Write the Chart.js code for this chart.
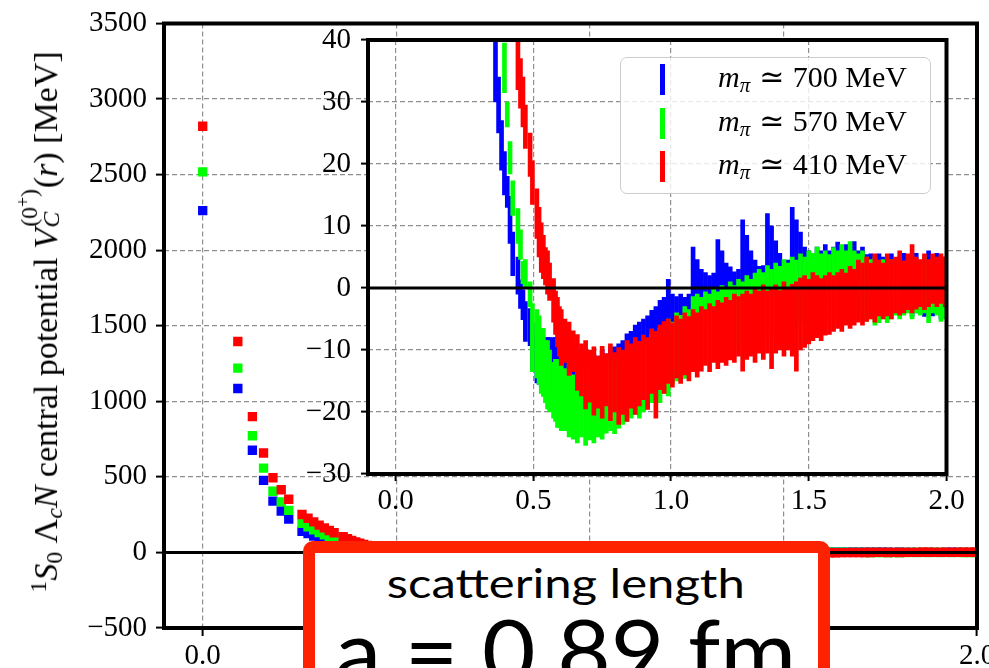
<!DOCTYPE html>
<html>
<head>
<meta charset="utf-8">
<script src="https://cdn.jsdelivr.net/npm/chart.js@4.4.1/dist/chart.umd.min.js"></script>
<style>
  html, body { margin: 0; padding: 0; background: #fff; overflow: hidden; }
  #wrap { position: relative; width: 989px; height: 668px; overflow: hidden; background: #fff; }
  #main, #inset { position: absolute; left: 0; top: 0; }
  .serif { font-family: 'Liberation Serif', 'DejaVu Serif', 'DejaVu Sans', serif; color: #000; }
  #ytitle { position: absolute; left: 45px; top: 322px; font-size: 28px; line-height: 28px;
            white-space: nowrap; transform: translate(-50%, -50%) rotate(-90deg); }
  .sup { font-size: 0.7em; position: relative; top: -0.48em; }
  .sub { font-size: 0.7em; position: relative; top: 0.22em; }
  .stk { display: inline-block; position: relative; width: 1.18em; height: 1em; }
  .stk .up { position: absolute; left: 0.06em; top: -0.42em; font-size: 0.7em; white-space: nowrap; }
  .stk .up2 { font-size: 0.75em; position: relative; top: -0.45em; }
  .stk .dn { position: absolute; left: 0.02em; top: 0.5em; font-size: 0.7em; }
  #legend { position: absolute; left: 620px; top: 57px; width: 311px; height: 137px; box-sizing: border-box;
            border: 1.5px solid #cccccc; border-radius: 7px; background: rgba(255,255,255,0.8); }
  .mk { position: absolute; left: 39px; width: 4.5px; height: 31px; }
  .lt { position: absolute; left: 97px; font-size: 30px; line-height: 30px; white-space: nowrap; }
  .lt .ls { font-size: 0.7em; position: relative; top: 0.25em; }
  .lt .rel { margin: 0 0.28em 0 0.3em; }
  #box { position: absolute; left: 303px; top: 541px; width: 527px; height: 200px; box-sizing: border-box;
         border: 12px solid #ff2200; border-radius: 10px; background: #fff; }
  .boxline { position: absolute; left: 266px; width: 600px; text-align: center; white-space: nowrap;
             font-family: 'Lato', 'Open Sans', sans-serif; font-weight: 400; color: #000; }
  .boxline span { display: inline-block; transform-origin: 50% 50%; }
  #l1 { font-size: 41px; line-height: 41px; top: 562px; }
  #l2 { font-size: 88px; line-height: 88px; top: 605px; }
</style>
</head>
<body>
<div id="wrap">
  <canvas id="main" width="1012" height="668" style="width:1012px;height:668px"></canvas>
  <canvas id="inset" width="989" height="668" style="width:989px;height:668px"></canvas>
  <div id="ytitle" class="serif"><span class="sup">1</span><i>S</i><span class="sub">0</span>&nbsp;Λ<span class="sub"><i>c</i></span><i>N</i> central potential <i>V</i><span class="stk"><span class="up">(0<span class="up2">+</span>)</span><span class="dn"><i>C</i></span></span>(<i>r</i>) [MeV]</div>
  <div id="legend" class="serif"></div>
  <div id="box"></div>
  <div class="boxline" id="l1"><span id="t1">scattering length</span></div>
  <div class="boxline" id="l2"><span id="t2">a = 0.89 fm</span></div>
</div>
<script>
// Distances r [fm]: lattice points up to 0.6 fm, then the dense region
const r = [
  0, 0.0907, 0.1283, 0.1571, 0.1814, 0.2028, 0.2222, 0.2565, 0.2721, 0.2868, 0.3008, 0.3142, 0.3270, 0.3394,
  0.3628, 0.3740, 0.3848, 0.3953, 0.4056, 0.4156, 0.4254, 0.4443, 0.4535, 0.4625, 0.4713, 0.4884, 0.4968,
  0.5131, 0.5210, 0.5289, 0.5366, 0.5442, 0.5517, 0.5591, 0.5736, 0.5808, 0.5878, 0.5948, 0.6016,
  0.615, 0.630, 0.645, 0.660, 0.675, 0.690, 0.705, 0.720, 0.735, 0.750,
  0.765, 0.780, 0.795, 0.810, 0.825, 0.840, 0.855, 0.870, 0.885, 0.900,
  0.915, 0.930, 0.945, 0.960, 0.975, 0.990, 1.005, 1.020, 1.035, 1.050,
  1.065, 1.080, 1.095, 1.110, 1.125, 1.140, 1.155, 1.170, 1.185, 1.200,
  1.215, 1.230, 1.245, 1.260, 1.275, 1.290, 1.305, 1.320, 1.335, 1.350,
  1.365, 1.380, 1.395, 1.410, 1.425, 1.440, 1.455, 1.470, 1.485, 1.500,
  1.515, 1.530, 1.545, 1.560, 1.575, 1.590, 1.605, 1.620, 1.635, 1.650,
  1.665, 1.680, 1.695, 1.710, 1.725, 1.740, 1.755, 1.770, 1.785, 1.800,
  1.815, 1.830, 1.845, 1.860, 1.875, 1.890, 1.905, 1.920, 1.935, 1.950,
  1.965, 1.980, 1.995
];

// m_pi ~ 700 MeV: potential [MeV] and statistical error
const vBlue = [
  2262, 1085, 676, 477, 339, 274, 221, 140, 124, 108, 94, 80, 68, 56,
  36, 29.5, 23, 18.5, 15.5, 11, 5.5, 2, -1, -2.7, -5.4, -6.3, -9.4,
  -11.5, -11, -12, -12.5, -12, -12.5, -12, -12.5, -12, -12.8, -12.5, -12.8,
  -12.5, -12.8, -13.5, -13.8, -14, -14.2, -14.2, -13.8, -14.2, -13.2,
  -13.8, -12.8, -13, -12.2, -12, -11.2, -10.8, -10, -9.5, -9,
  -8.5, -7.8, -7.2, -6.5, -6, -3.8, -5.2, -5.2, -4.8, -5,
  -4.5, -0.2, -1.2, -1.8, -2, -2, -1.8, 0.9, 0.2, -0.8,
  -0.8, -1.2, -1, 3, 2, 0.8, 0, -0.5, -0.2, 4,
  3, 1.8, 0.8, 0.5, 0.5, 4.8, 3.8, 2.8, 1.8, 1.5,
  1.2, 1.8, 1.5, 2, 1.5, 1.8, 2.2, 1.5, 2, 1.5,
  2, 1.5, 1.8, 1.2, 1, 1, 1, 1, 0.5, 1,
  0.2, 0.8, 0.8, 0.5, 0.2, 0.8, 0.2, 0.2, 1, 0,
  0.8, 0, 0.2
];
const eBlue = [
  20, 15, 12, 10, 8, 8, 7, 6, 6, 6, 5, 5, 5, 5,
  6, 4.5, 4, 3.5, 2.5, 3.8, 3.5, 3, 2.3, 2.4, 3.2, 3, 3.8,
  3.8, 4.5, 4, 4.5, 4, 4.5, 4, 4.5, 4, 4.2, 4, 4.2,
  4.5, 3.8, 4, 3.2, 4, 3.2, 3.8, 3.2, 3.2, 3.2,
  3.2, 3.2, 3.5, 3.2, 3.5, 3.8, 3.8, 4, 4, 4,
  4, 4.2, 4.2, 4.5, 4.5, 5.2, 4.2, 3.8, 3.8, 3.5,
  3.5, 6.8, 5.8, 4.8, 4.5, 4, 4.2, 6.9, 5.8, 4.8,
  4.2, 3.8, 4, 8, 6.5, 5.2, 4.5, 4, 3.8, 8,
  7, 5.8, 4.8, 4, 4, 8.2, 7.2, 6.2, 4.8, 4.5,
  4.2, 4.8, 4.5, 5, 4.5, 4.8, 5.2, 4.5, 5, 4.5,
  5.5, 4.5, 4.8, 4.2, 4.5, 4, 4.5, 4, 4.5, 4.5,
  4.2, 4.2, 4.8, 4, 4.8, 4.8, 4.2, 4.8, 5, 4.5,
  4.8, 5, 4.8
];

// m_pi ~ 570 MeV
const vGreen = [
  2518, 1220, 772, 558, 405, 335, 278, 192, 170, 150, 132, 116, 101, 88,
  64, 54, 45, 35.5, 28, 21, 14.5, 10, 7, 2.5, 2.4, -1, -8,
  -9, -10, -12, -12, -13.5, -14, -15, -16.5, -16.5, -17, -17.5, -17.5,
  -18, -18, -19.2, -18.8, -19, -19.2, -19.5, -18.8, -18.8, -18.2,
  -18.2, -17.2, -18, -16.8, -17, -16, -16.2, -15.2, -15.8, -14.5,
  -14.5, -13, -13, -12.5, -11.5, -11.2, -10.5, -9.5, -9.2, -8.8,
  -8.5, -7.2, -6.5, -7, -5.8, -6.2, -5.2, -5.8, -4.8, -5.2,
  -4.2, -4.8, -3.8, -4.2, -3.2, -3.8, -2.8, -2.8, -2.5, -2.2,
  -2, -1.8, -1.5, -1.2, -1.2, -0.5, -1, 0, -0.5, 0.5,
  -0.2, 0.8, 0, 0.8, 0.2, 1, 0.5, 1.2, 0.5, 1.5,
  0.5, 0.5, 0.5, -0.2, -0.2, -0.5, -0.8, -0.2, -0.8, -0.2,
  -0.2, 0, -0.2, 0.2, -0.5, 0.2, -0.2, 0.5, -0.8, 0.2,
  -0.2, -0.2, -0.2
];
const eGreen = [
  20, 15, 12, 10, 8, 8, 7, 6, 6, 6, 5, 5, 5, 5,
  5, 5, 3.5, 4, 2, 2.6, 2.8, 2.8, 2.4, 1.8, 2.2, 2, 5.5,
  5.5, 5.5, 5, 5.5, 5, 5.5, 5, 4.5, 5, 5.5, 5, 5.5,
  5, 6, 5.2, 6.2, 5, 6.2, 5, 6.2, 5.2, 6.2,
  5.2, 5.8, 5.5, 5.8, 5, 5.5, 4.8, 5.2, 5.2, 5.5,
  5, 5.5, 5, 6, 5.5, 6.2, 5, 5.5, 4.8, 5.8,
  5, 5.8, 5.5, 5.5, 5.2, 5.2, 5.2, 5.2, 5.2, 5.2,
  5.2, 5.2, 5.2, 5.2, 5.2, 5.2, 5.2, 5.8, 5, 5.8,
  5, 5.8, 5, 5.8, 5.2, 5.5, 5.5, 5.5, 5.5, 5.5,
  5.8, 5.8, 5.5, 5.2, 5.2, 5.5, 5.5, 5.8, 5.5, 6,
  5.5, 5, 5.5, 5.2, 4.8, 5.5, 4.8, 4.8, 4.8, 4.8,
  4.2, 5, 4.2, 4.2, 4.5, 4.2, 4.2, 4.5, 4.8, 4.2,
  4.2, 5.2, 4.8
];

// m_pi ~ 410 MeV
const vRed = [
  2820, 1396, 899, 658, 494, 415, 352, 251, 226, 202, 181, 162, 145, 130,
  104, 91, 80, 70, 61, 53, 46, 36, 33, 30, 26, 21.5, 17,
  12, 9, 6.5, 5, 3.5, 2.5, 1, -2, -4, -5.5, -7, -8,
  -8.5, -9.8, -10.2, -12, -13.2, -14, -14.2, -15, -15.2, -15.2,
  -14.8, -15.2, -15.2, -15.8, -15.2, -15, -14.2, -14.2, -13.8, -12.8,
  -13.8, -11.8, -14, -11.2, -11.2, -10.2, -10.8, -9.5, -10.2, -9,
  -9.8, -8.5, -9.2, -8.2, -8, -8, -7.5, -7.5, -7.2, -7,
  -6.8, -6.5, -6.2, -7.2, -6, -6, -6, -5.5, -5.5, -5.5,
  -6.5, -5, -5.2, -5, -5, -5.2, -6.2, -4.2, -3.8, -3.8,
  -3, -3, -3.5, -2.8, -2.5, -2.5, -2, -2, -1.8, -1.5,
  -1.5, -0.5, -1, -0.2, -0.5, 0, 0, -0.5, 0.5, -0.2,
  0.5, 0.8, 0.2, 1, 1.5, 0.8, 0.8, 1, 0.8, 1.5,
  1, 1.5, 1
];
const eRed = [
  20, 15, 12, 10, 8, 8, 7, 6, 6, 6, 5, 5, 5, 5,
  5, 5, 5, 5, 5, 5, 4.5, 4, 4, 4, 3.5, 3.5, 3.5,
  4, 4, 4, 3.5, 3, 3.5, 3, 3.5, 3.5, 4, 4, 4.5,
  3.5, 4.3, 3.3, 4.5, 4.2, 5.5, 4.2, 5.5, 4.2, 5.8,
  4.2, 6.2, 4.8, 6.2, 5.2, 6.5, 5.2, 6.2, 5.2, 5.2,
  5.8, 5.2, 7, 5.2, 5.8, 5.2, 5.2, 5, 5.2, 5,
  5.2, 5, 5.2, 5.2, 4.5, 5.5, 4.5, 5.5, 4.8, 5.5,
  4.8, 5.5, 4.8, 6.2, 5.5, 5, 6, 5, 6, 5,
  6.5, 5.5, 4.8, 6, 5, 5.8, 7.2, 5.8, 5.8, 5.2,
  5.5, 5, 5, 4.8, 5, 4.5, 4.5, 5, 4.2, 5,
  4.5, 5, 5, 5.2, 4.5, 5.5, 4.5, 4.5, 5, 4.8,
  4.5, 5.2, 4.2, 4.5, 5.5, 4.2, 3.8, 4.5, 3.8, 4,
  4, 4, 4
];

const pionMass = [700, 570, 410];
const seriesColor = ['#0000ff', '#00ff00', '#ff0000'];

const mainXTicks = [0.0, 0.5, 1.0, 1.5, 2.0];
const mainYTicks = [-500, 0, 500, 1000, 1500, 2000, 2500, 3000, 3500];
const insetXTicks = [0.0, 0.5, 1.0, 1.5, 2.0];
const insetYTicks = [-30, -20, -10, 0, 10, 20, 30, 40];

const SERIF = "'Liberation Serif', 'DejaVu Serif', serif";
const tickFont = { family: SERIF, size: 29, lineHeight: 1 };
const minus = v => (v < 0 ? '\u2212' + Math.abs(v) : String(v));

function gridOpts(len) {
  return { color: '#8f8f8f', lineWidth: 1.2, drawTicks: true, tickLength: len,
           tickColor: '#000', tickWidth: 2, tickBorderDash: [], offset: false };
}
const dashed = { display: false, dash: [5, 3] };

// Frame around the plotting area plus the black zero line, painted over the data
const framePlugin = {
  id: 'frame',
  afterDatasetsDraw(chart, args, opts) {
    const { ctx, chartArea: a } = chart;
    const y0 = chart.scales.y.getPixelForValue(0);
    ctx.save();
    ctx.strokeStyle = '#000';
    ctx.lineWidth = opts.zeroWidth;
    ctx.beginPath(); ctx.moveTo(a.left, y0); ctx.lineTo(a.right, y0); ctx.stroke();
    ctx.lineWidth = opts.width;
    ctx.strokeRect(a.left, a.top, a.right - a.left, a.bottom - a.top);
    ctx.restore();
  }
};
const whiteArea = {
  id: 'whiteArea',
  beforeDraw(chart) {
    const { ctx, chartArea: a } = chart;
    ctx.save(); ctx.fillStyle = '#fff';
    ctx.fillRect(a.left, a.top, a.right - a.left, a.bottom - a.top);
    ctx.restore();
  }
};

const points = vals => r.map((x, i) => ({ x, y: vals[i] }));
const bars = (vals, errs) => r.map((x, i) => ({ x, y: [vals[i] - errs[i], vals[i] + errs[i]] }));
const values = [vBlue, vGreen, vRed];
const errors = [eBlue, eGreen, eRed];

// Full-range potential
new Chart(document.getElementById('main'), {
  type: 'scatter',
  data: {
    datasets: values.map((v, k) => ({
      label: pionMass[k] + ' MeV', data: points(v), order: 2 - k,
      pointStyle: 'rect', pointRadius: 6.6, borderWidth: 0,
      backgroundColor: seriesColor[k], borderColor: seriesColor[k]
    }))
  },
  options: {
    responsive: false, animation: false, events: [],
    layout: { padding: { top: 17, right: 35, left: 0, bottom: 0 } },
    plugins: { legend: { display: false }, tooltip: { enabled: false }, frame: { width: 4, zeroWidth: 3 } },
    scales: {
      x: {
        type: 'linear', min: -0.1, max: 2.0,
        grid: gridOpts(8), border: dashed,
        ticks: { font: tickFont, color: '#000', padding: 6, maxRotation: 0, callback: v => v.toFixed(1) },
        afterBuildTicks: s => { s.ticks = mainXTicks.map(v => ({ value: v })); },
        afterFit: s => { s.height = 40; }
      },
      y: {
        type: 'linear', min: -500, max: 3500,
        grid: gridOpts(8), border: dashed,
        ticks: { font: tickFont, color: '#000', padding: 9, callback: v => minus(v) },
        afterBuildTicks: s => { s.ticks = mainYTicks.map(v => ({ value: v })); },
        afterFit: s => { s.width = 164; }
      }
    }
  },
  plugins: [framePlugin]
});

// Zoom on the attractive pocket, each point drawn as its error bar
new Chart(document.getElementById('inset'), {
  type: 'bar',
  data: {
    datasets: values.map((v, k) => ({
      label: pionMass[k] + ' MeV', data: bars(v, errors[k]), order: 2 - k,
      backgroundColor: seriesColor[k], borderWidth: 0,
      grouped: false, barThickness: 4, clip: 0
    }))
  },
  options: {
    responsive: false, animation: false, events: [],
    layout: { padding: { top: 40, right: 42.5, left: 0, bottom: 0 } },
    plugins: { legend: { display: false }, tooltip: { enabled: false }, frame: { width: 4, zeroWidth: 3.2 } },
    scales: {
      x: {
        type: 'linear', min: -0.1, max: 2.0, offset: false,
        grid: gridOpts(7), border: dashed,
        ticks: { font: tickFont, color: '#000', padding: 6, maxRotation: 0, callback: v => v.toFixed(1) },
        afterBuildTicks: s => { s.ticks = insetXTicks.map(v => ({ value: v })); },
        afterFit: s => { s.height = 194; }
      },
      y: {
        type: 'linear', min: -30, max: 40,
        grid: gridOpts(7), border: dashed,
        ticks: { font: tickFont, color: '#000', padding: 10, callback: v => minus(v) },
        afterBuildTicks: s => { s.ticks = insetYTicks.map(v => ({ value: v })); },
        afterFit: s => { s.width = 368; }
      }
    }
  },
  plugins: [whiteArea, framePlugin]
});

// Legend rows: error-bar marker and label
const legend = document.getElementById('legend');
const rowTop = [6, 50, 93];
pionMass.forEach((m, k) => {
  const mk = document.createElement('div');
  mk.className = 'mk';
  mk.style.top = rowTop[k] + 'px';
  mk.style.background = seriesColor[k];
  legend.appendChild(mk);
  const lt = document.createElement('div');
  lt.className = 'lt';
  lt.style.top = (rowTop[k] - 2) + 'px';
  lt.innerHTML = '<i>m</i><span class="ls"><i>π</i></span><span class="rel">≃</span>' + m + ' MeV';
  legend.appendChild(lt);
});

// Axis title length along the y axis
(function () {
  const t = document.getElementById('ytitle');
  const w = t.offsetWidth;
  if (w > 0) {
    const fs = 28 * 541 / w;
    t.style.fontSize = fs + 'px';
    t.style.lineHeight = fs + 'px';
  }
})();

// Stretch the box lines to their drawn widths
function fitWidth(id, target) {
  const el = document.getElementById(id);
  const w = el.getBoundingClientRect().width;
  if (w > 0) el.style.transform = 'scaleX(' + (target / w) + ')';
}
fitWidth('t1', 358);
fitWidth('t2', 461);
</script>
</body>
</html>
